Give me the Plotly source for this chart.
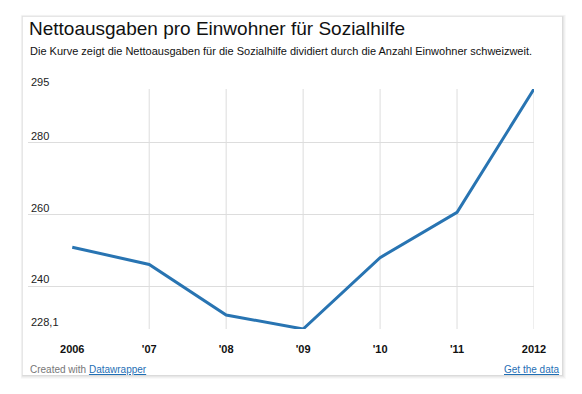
import plotly.graph_objects as go

years = [2006, 2007, 2008, 2009, 2010, 2011, 2012]
values = [250.9, 246.1, 232.0, 228.1, 248.0, 260.6, 295.0]
x_labels = ["2006", "'07", "'08", "'09", "'10", "'11", "2012"]
y_ticks = [228.1, 240, 260, 280, 295]
y_labels = ["228,1", "240", "260", "280", "295"]
grid_vals = [228.1, 240, 260, 280]

title = "Nettoausgaben pro Einwohner für Sozialhilfe"
subtitle = "Die Kurve zeigt die Nettoausgaben für die Sozialhilfe dividiert durch die Anzahl Einwohner schweizweit."

# page body has an 8px default margin; lay out in page coordinates and offset
OFF = 8
W, H = 582 - OFF, 394 - OFF
L, T = 28 - OFF, 89 - OFF
PW, PH = 506, 240
R, B = W - L - PW, H - T - PH

def px(x):
    return (x - OFF - L) / PW

def py(y):
    return (T + PH - (y - OFF)) / PH

FONT = "Liberation Sans, Arial, Helvetica, sans-serif"

fig = go.Figure()
fig.add_trace(go.Scatter(x=years, y=values, mode="lines",
                         line=dict(color="#2874b2", width=3),
                         hoverinfo="skip", showlegend=False))

shapes = []
for i, a in [(4, 0.025), (3, 0.03), (2, 0.04), (1, 0.05)]:
    shapes.append(dict(type="rect", xref="paper", yref="paper", layer="below",
                       x0=px(22.7 - i * 0.5), x1=px(562 + i), y0=py(375 + i), y1=py(16.7 - i * 0.5),
                       fillcolor=f"rgba(0,0,0,{a})", line=dict(width=0)))
shapes.append(dict(type="rect", xref="paper", yref="paper", layer="below",
                   x0=px(22.7), x1=px(562), y0=py(375), y1=py(16.7),
                   fillcolor="white", line=dict(width=0)))
for yr in years[1:]:
    shapes.append(dict(type="line", xref="x", yref="y", layer="below",
                       x0=yr, x1=yr, y0=min(y_ticks), y1=max(y_ticks),
                       line=dict(color="#dddddd", width=1)))

annotations = []
annotations.append(dict(text=title, xref="paper", yref="paper", x=px(27), y=py(28.5),
                        xanchor="left", yanchor="middle", showarrow=False,
                        font=dict(family=FONT, size=19, color="#111111")))
annotations.append(dict(text=subtitle, xref="paper", yref="paper", x=px(28), y=py(51),
                        xanchor="left", yanchor="middle", showarrow=False,
                        font=dict(family=FONT, size=11, color="#111111")))
for v, t in zip(y_ticks, y_labels):
    annotations.append(dict(text=t, xref="paper", yref="y", x=0, y=v, xshift=1, yshift=7,
                            xanchor="left", yanchor="middle", showarrow=False,
                            font=dict(family=FONT, size=11, color="#222222")))
annotations.append(dict(text="Created with <span style='color:#1f6fb5;text-decoration:underline'>Datawrapper</span>",
                        xref="paper", yref="paper", x=px(28), y=py(369),
                        xanchor="left", yanchor="middle", showarrow=False,
                        font=dict(family=FONT, size=10, color="#777777")))
annotations.append(dict(text="<span style='text-decoration:underline'>Get the data</span>",
                        xref="paper", yref="paper", x=px(561), y=py(369),
                        xanchor="right", yanchor="middle", showarrow=False,
                        font=dict(family=FONT, size=10, color="#1f6fb5")))

fig.update_layout(
    width=W, height=H,
    margin=dict(l=L, r=R, t=T, b=B),
    paper_bgcolor="white", plot_bgcolor="rgba(0,0,0,0)",
    shapes=shapes, annotations=annotations,
    xaxis=dict(range=[2005.425, 2012], tickvals=years,
               ticktext=[f"<b>{t}</b>" for t in x_labels],
               showgrid=False, zeroline=False, showline=False,
               ticks="outside", ticklen=10, tickcolor="rgba(0,0,0,0)",
               tickfont=dict(family=FONT, size=11, color="#111111"), fixedrange=True),
    yaxis=dict(range=[228.1, 295], tickvals=grid_vals, showticklabels=False,
               showgrid=True, gridcolor="#dddddd", gridwidth=1, zeroline=False,
               showline=False, ticks="", fixedrange=True),
)

fig.write_html("out.html")
